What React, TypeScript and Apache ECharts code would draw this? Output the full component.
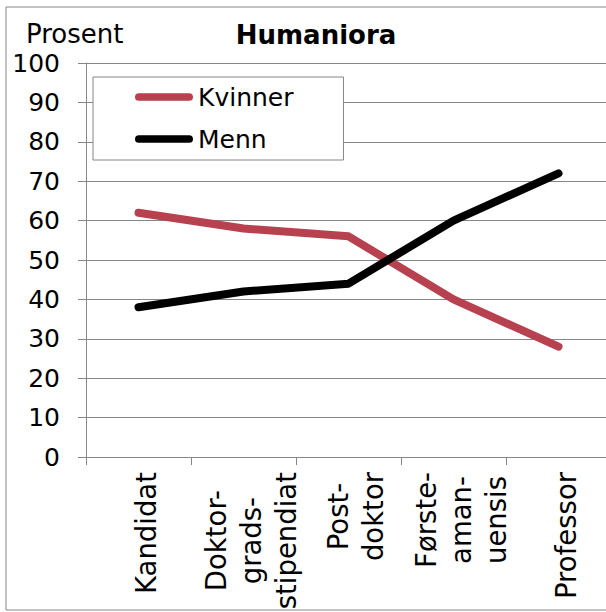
import React, { useEffect, useRef } from "react";
import * as echarts from "echarts";

const categories = [
  "Kandidat",
  "Doktor-\ngrads-\nstipendiat",
  "Post-\ndoktor",
  "Første-\naman-\nuensis",
  "Professor",
];
const kvinner = [62, 58, 56, 40, 28];
const menn = [38, 42, 44, 60, 72];
const seriesNames = ["Kvinner", "Menn"];
const titleText = "Humaniora";
const yAxisTitle = "Prosent";

const FONT = "'DejaVu Sans', Verdana, sans-serif";
const GRAY = "#868686";

export default function App() {
  const ref = useRef<HTMLDivElement>(null);

  useEffect(() => {
    if (!ref.current) return;
    const chart = echarts.init(ref.current, null, { renderer: "svg" });
    const pill = "path://M4,0 L56,0 A4,4 0 0 1 56,8 L4,8 A4,4 0 0 1 4,0 Z";
    chart.setOption({
      animation: false,
      backgroundColor: "#ffffff",
      textStyle: { fontFamily: FONT, color: "#000" },
      grid: {
        left: 86,
        top: 63,
        right: -5,
        bottom: 155,
        containLabel: false,
        outerBoundsMode: "none",
      },
      graphic: [
        {
          type: "rect",
          z: -10,
          shape: { x: 6, y: 7, width: 640, height: 603 },
          style: { fill: "none", stroke: GRAY, lineWidth: 1 },
          silent: true,
        },
        {
          type: "text",
          x: 26,
          y: 34,
          style: {
            text: yAxisTitle,
            font: `26px ${FONT}`,
            fill: "#000",
            textAlign: "left",
            textVerticalAlign: "middle",
          },
        },
        {
          type: "text",
          x: 316,
          y: 35,
          style: {
            text: titleText,
            font: `bold 26px ${FONT}`,
            fill: "#000",
            textAlign: "center",
            textVerticalAlign: "middle",
          },
        },
      ],
      legend: {
        orient: "vertical",
        left: 93,
        top: 77,
        padding: [6, 50, 7, 42],
        itemGap: 14,
        itemWidth: 58,
        itemHeight: 8,
        icon: pill,
        backgroundColor: "#ffffff",
        borderColor: GRAY,
        borderWidth: 1,
        borderRadius: 0,
        textStyle: { fontFamily: FONT, fontSize: 25, color: "#000", lineHeight: 28 },
        data: seriesNames,
      },
      xAxis: {
        type: "category",
        data: categories,
        boundaryGap: true,
        axisLine: { show: true, lineStyle: { color: GRAY, width: 1 } },
        axisTick: { show: true, length: 8, alignWithLabel: false, lineStyle: { color: GRAY } },
        splitLine: { show: false },
        axisLabel: {
          interval: 0,
          rotate: 90,
          margin: 15,
          padding: [14, 0, 0, 0],
          formatter: (v: string) =>
            v
              .split("\n")
              .map((l) => `{a|${l}}`)
              .join("\n"),
          rich: {
            a: {
              fontFamily: FONT,
              fontSize: 27.5,
              lineHeight: 35,
              color: "#000",
              align: "center",
            },
          },
        },
      },
      yAxis: {
        type: "value",
        min: 0,
        max: 100,
        interval: 10,
        axisLine: { show: true, lineStyle: { color: GRAY, width: 1 } },
        axisTick: { show: true, length: 8, lineStyle: { color: GRAY } },
        splitLine: { show: true, lineStyle: { color: GRAY, width: 1 } },
        axisLabel: {
          margin: 26,
          fontFamily: FONT,
          fontSize: 25,
          color: "#000",
        },
      },
      series: [
        {
          name: seriesNames[0],
          type: "line",
          data: kvinner,
          symbol: "none",
          color: "#b7414f",
          lineStyle: { width: 8, color: "#b7414f", cap: "round", join: "round" },
        },
        {
          name: seriesNames[1],
          type: "line",
          data: menn,
          symbol: "none",
          color: "#000000",
          lineStyle: { width: 8, color: "#000000", cap: "round", join: "round" },
        },
      ],
    });
    return () => chart.dispose();
  }, []);

  return (
    <div
      ref={ref}
      style={{ position: "fixed", left: 0, top: 0, width: 606, height: 612 }}
    />
  );
}
